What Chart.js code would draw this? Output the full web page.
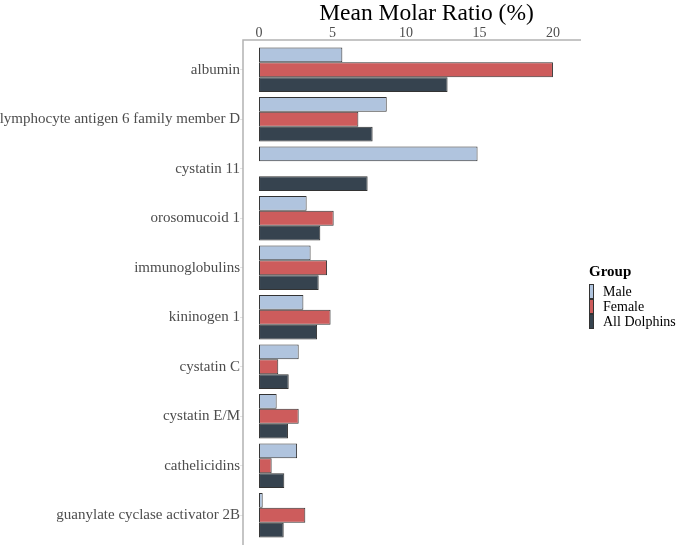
<!DOCTYPE html>
<html>
<head>
<meta charset="utf-8">
<script src="https://cdn.jsdelivr.net/npm/chart.js@4.4.1/dist/chart.umd.min.js"></script>
<style>
  html, body { margin: 0; padding: 0; background: #fff; }
  #wrap { position: relative; width: 681px; height: 549px; }
  #legend { position: absolute; left: 589px; top: 262px; font-family: 'Liberation Serif', 'Times New Roman', serif; color: #000; white-space: nowrap; }
  #legend .ttl { font-weight: bold; font-size: 15px; line-height: 18px; margin-bottom: 4px; }
  #legend .item { display: flex; align-items: center; height: 15px; font-size: 14px; line-height: 15px; }
  #legend .sw { width: 3px; height: 13px; border: 1px solid #333; margin-right: 9px; flex: none; }
</style>
</head>
<body>
<div id="wrap">
  <canvas id="chart" width="681" height="549"></canvas>
  <div id="legend"></div>
</div>
<script>
const categories = [
  "albumin",
  "lymphocyte antigen 6 family member D",
  "cystatin 11",
  "orosomucoid 1",
  "immunoglobulins",
  "kininogen 1",
  "cystatin C",
  "cystatin E/M",
  "cathelicidins",
  "guanylate cyclase activator 2B"
];
const male   = [5.67, 8.69, 14.87, 3.24, 3.51, 3.02, 2.70, 1.20, 2.59, 0.25];
const female = [20.0, 6.76, 0,     5.08, 4.63, 4.87, 1.31, 2.70, 0.86, 3.15];
const allDolphins = [12.83, 7.73, 7.39, 4.17, 4.06, 3.95, 2.02, 1.97, 1.72, 1.68];
const groups = ["Male", "Female", "All Dolphins"];
const colors = ["#b0c4de", "#cd5c5c", "#36434f"];
const xTicks = [0, 5, 10, 15, 20];
const xTitle = "Mean Molar Ratio (%)";

const serif = "'Liberation Serif', 'Times New Roman', serif";
Chart.defaults.font.family = serif;

// ggplot-like axis lines that reach a bit past the outer bars, plus the axis title
const axisLines = {
  id: "axisLines",
  afterDraw(chart) {
    const ctx = chart.ctx;
    const y = chart.scales.y;
    const area = chart.chartArea;
    const top = y.getPixelForValue(-0.6);
    const bottom = y.getPixelForValue(categories.length - 0.4);
    ctx.save();
    ctx.strokeStyle = "#b3b3b3";
    ctx.lineWidth = 1.5;
    ctx.beginPath();
    ctx.moveTo(area.right + 1, top);
    ctx.lineTo(area.left, top);
    ctx.lineTo(area.left, bottom);
    ctx.stroke();

    ctx.fillStyle = "#000";
    ctx.font = "23.5px " + serif;
    ctx.textAlign = "center";
    ctx.textBaseline = "middle";
    ctx.fillText(xTitle, (area.left + area.right) / 2 + 15, 14);
    ctx.restore();
  }
};

const series = [male, female, allDolphins];

new Chart(document.getElementById("chart"), {
  type: "bar",
  data: {
    labels: categories,
    datasets: groups.map((g, i) => ({
      label: g,
      data: series[i],
      backgroundColor: colors[i],
      borderColor: "#333333",
      borderWidth: 1,
      borderSkipped: false,
      categoryPercentage: 0.895,
      barPercentage: 1.0
    }))
  },
  options: {
    indexAxis: "y",
    responsive: false,
    animation: false,
    devicePixelRatio: 1,
    layout: { padding: { top: 0, right: 101, bottom: 6, left: 0 } },
    plugins: {
      legend: { display: false },
      tooltip: { enabled: false }
    },
    scales: {
      x: {
        position: "top",
        min: -1.09,
        max: 21.84,
        afterBuildTicks: s => { s.ticks = xTicks.map(v => ({ value: v })); },
        afterFit: s => { s.height = 45; },
        grid: { display: false },
        border: { display: false },
        ticks: { color: "#4d4d4d", font: { size: 14 }, padding: -5 }
      },
      y: {
        afterFit: s => { s.width = 243; },
        grid: {
          display: true,
          drawOnChartArea: false,
          drawTicks: true,
          tickLength: 3,
          offset: false,
          color: "#e3e3e3"
        },
        border: { display: false },
        ticks: { color: "#4d4d4d", font: { size: 15 }, padding: 0, autoSkip: false }
      }
    }
  },
  plugins: [axisLines]
});

const legend = document.getElementById("legend");
legend.innerHTML = '<div class="ttl">Group</div>' + groups.map((g, i) =>
  `<div class="item"><span class="sw" style="background:${colors[i]}"></span>${g}</div>`
).join("");
</script>
</body>
</html>
